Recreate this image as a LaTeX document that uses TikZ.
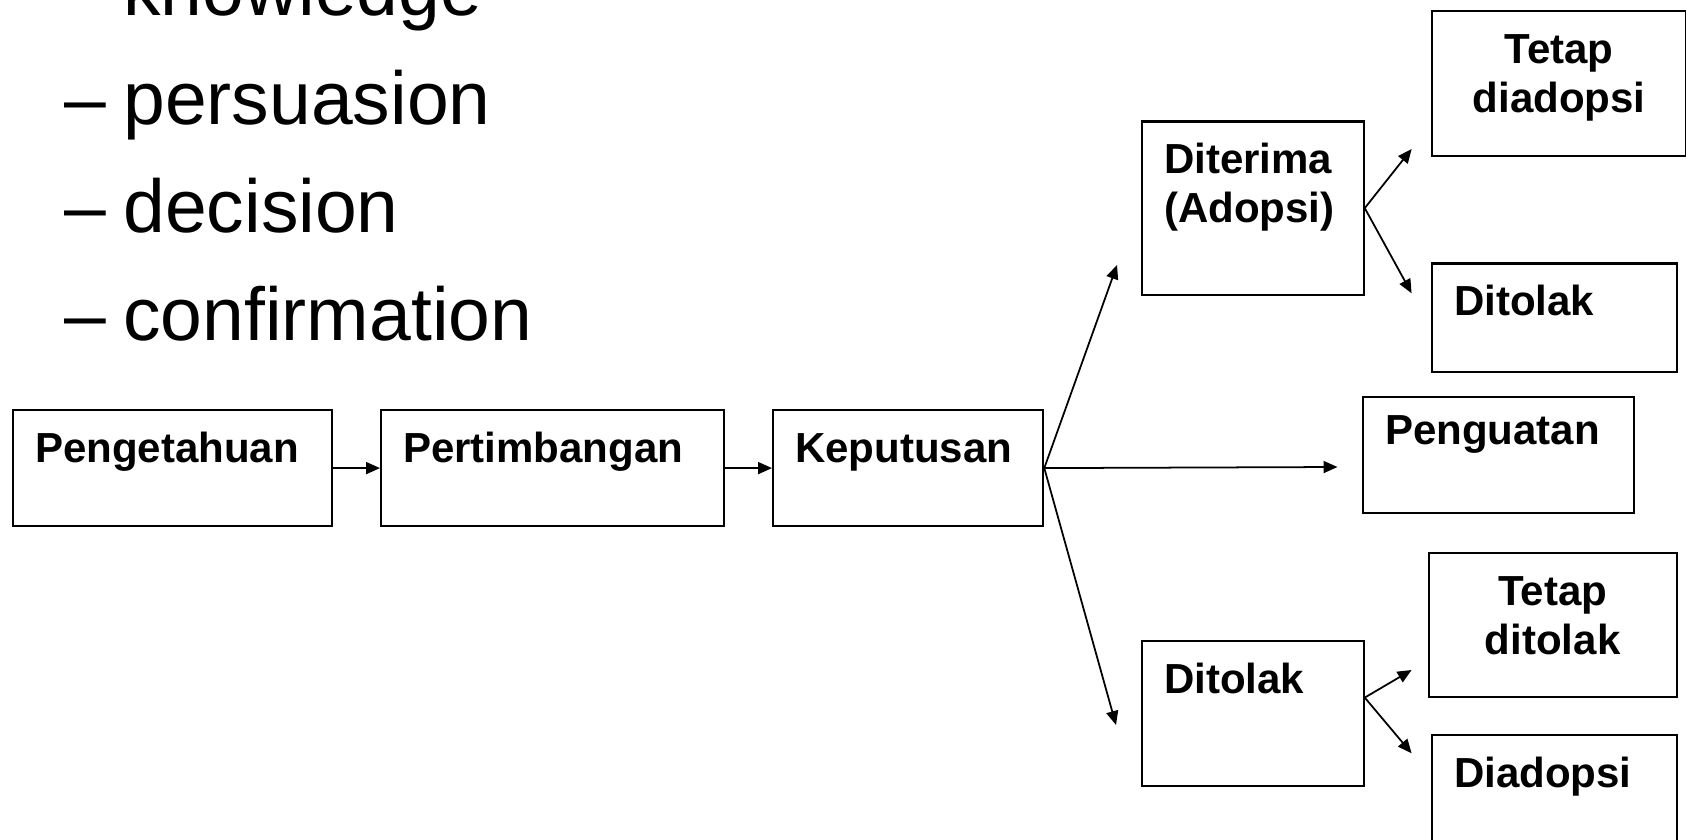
\documentclass[tikz,border=0pt]{standalone}
\usepackage{fontspec}
\setmainfont{Liberation Sans}
\usetikzlibrary{arrows.meta}
\tikzset{
    base/.style={draw, line width=0.6pt, anchor=north west, inner xsep=0.22cm, inner ysep=0pt, text height=0.52cm, font=\fontsize{11.95}{13.95}\selectfont\bfseries},
    box/.style={base, align=left},
    midbox/.style={base, align=center},
    arrow/.style={-{Triangle[length=1.4mm, width=1.2mm]}, line width=0.5pt},
    bullet/.style={anchor=base west, inner sep=0pt, font=\fontsize{21.34}{25}\selectfont}
}

\begin{document}
\begin{tikzpicture}[x=0.01cm, y=-0.01cm]
    \useasboundingbox (0,0) rectangle (1686,840);

    % Stage list
    \node[bullet] (know) at (63.5,16) {–\hspace{0.175cm}knowledge};
    \node[bullet] (pers) at (63.5,124.5) {–\hspace{0.175cm}persuasion};
    \node[bullet] (deci) at (63.5,232.5) {–\hspace{0.175cm}decision};
    \node[bullet] (conf) at (63.5,340.5) {–\hspace{0.175cm}confirmation};

    % Main row
    \node[box, text width=2.75cm, text depth=0.64cm] (peng) at (12,409) {Pengetahuan};
    \node[box, text width=2.99cm, text depth=0.64cm] (pert) at (380,409) {Pertimbangan};
    \node[box, text width=2.26cm, text depth=0.64cm] (kep) at (772,409) {Keputusan};

    \draw[arrow] (peng.east) -- (pert.west);
    \draw[arrow] (pert.east) -- (kep.west);

    % Outcomes
    \node[box, text width=1.775cm, text depth=1.21cm] (dit) at (1141,120.5) {Diterima\\(Adopsi)};
    \node[box, text width=2.27cm, text height=0.48cm, text depth=0.68cm] (guat) at (1362,395.5) {Penguatan};
    \node[box, text width=1.775cm, text depth=0.93cm] (tolak) at (1141,640) {Ditolak};

    \coordinate (ditin) at (1117,265);
    \coordinate (guatin) at (1337.5,467);
    \coordinate (tolakin) at (1116,725);
    \draw[arrow] (kep.east) -- (ditin);
    \draw[arrow] (kep.east) -- (guatin);
    \draw[arrow] (kep.east) -- (tolakin);

    % After adoption
    \node[midbox, text width=2.10cm, text depth=0.925cm] (tetapdi) at (1431,10) {Tetap\\diadopsi};
    \node[box, text width=2.005cm, text depth=0.565cm] (ditolak) at (1431,262.5) {Ditolak};

    \coordinate (tetapdiin) at (1411.6,149);
    \coordinate (ditolakin) at (1411.6,293.3);
    \draw[arrow] (dit.east) -- (tetapdiin);
    \draw[arrow] (dit.east) -- (ditolakin);

    % After rejection
    \node[midbox, text width=2.04cm, text depth=0.917cm] (tetaptol) at (1427.5,552.3) {Tetap\\ditolak};
    \node[box, text width=2.005cm, text depth=0.68cm] (diadop) at (1431,734) {Diadopsi};

    \coordinate (tolakout) at ([yshift=0.16cm]tolak.east);
    \coordinate (tetaptolin) at (1411.6,670);
    \coordinate (diadopin) at (1411.6,753.3);
    \draw[arrow] (tolakout) -- (tetaptolin);
    \draw[arrow] (tolakout) -- (diadopin);
\end{tikzpicture}
\end{document}
